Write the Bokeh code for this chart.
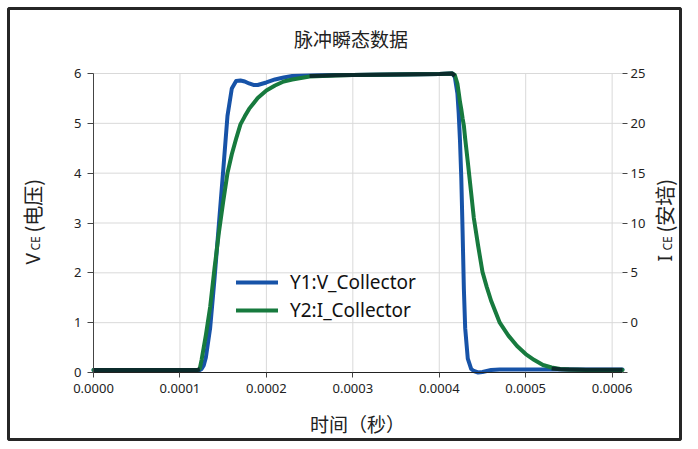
import numpy as np
from bokeh.plotting import figure
from bokeh.models import (Range1d, LinearAxis, FixedTicker, PrintfTickFormatter, Label,
                          Legend, LegendItem, ColumnDataSource, Grid)
from bokeh.embed import file_html
from bokeh.resources import INLINE

# ---------------- data ----------------
title_text = "脉冲瞬态数据"
x_title = "时间（秒）"
y1_title = ["V", "CE", "(电压)"]
y2_title = ["I", "CE", "(安培)"]
series_names = ["Y1:V_Collector", "Y2:I_Collector"]

time_s = [0.0, 0.00005, 0.0001, 0.00012, 0.000123, 0.000125, 0.0001275, 0.00013,
          0.000135, 0.00014, 0.000145, 0.00015, 0.000155, 0.00016, 0.000165, 0.00017,
          0.000175, 0.00018, 0.000185, 0.00019, 0.0002, 0.00021, 0.00022, 0.00023,
          0.00025, 0.00028, 0.0003, 0.00035, 0.0004, 0.000415, 0.000418, 0.000421,
          0.0004225, 0.000424, 0.0004255, 0.000427, 0.0004285, 0.00043, 0.000433,
          0.000437, 0.00044, 0.000445, 0.00045, 0.000455, 0.00046, 0.000465, 0.00047,
          0.00048, 0.00049, 0.0005, 0.00051, 0.00052, 0.00053, 0.00054, 0.00055,
          0.00057, 0.0006, 0.000612]
v_collector = [0.05, 0.05, 0.05, 0.05, 0.05, 0.07, 0.14, 0.3,
               0.9, 1.88, 2.96, 4.04, 5.15, 5.7, 5.85, 5.86,
               5.84, 5.8, 5.77, 5.77, 5.82, 5.88, 5.92, 5.95,
               5.96, 5.97, 5.97, 5.98, 5.99, 6.0, 5.93, 5.6,
               5.2, 4.65, 3.9, 2.83, 1.67, 0.89, 0.28,
               0.07, 0.03, 0.0, 0.01, 0.03, 0.05, 0.055, 0.06,
               0.06, 0.06, 0.06, 0.06, 0.06, 0.06, 0.06, 0.06,
               0.06, 0.06, 0.06]
i_collector = [-4.75, -4.75, -4.75, -4.75, -4.6, -3.75, -2.5, -1.25,
               1.6, 5.45, 9.0, 12.1, 15.0, 16.9, 18.45, 19.9,
               20.7, 21.45, 22.0, 22.55, 23.3, 23.8, 24.2, 24.4,
               24.7, 24.8, 24.85, 24.9, 24.95, 25.0, 24.85, 24.0,
               23.1, 22.15, 21.4, 20.5, 19.75, 18.45, 16.15,
               12.95, 10.5, 7.7, 5.1, 3.57, 2.2, 1.1, 0.0,
               -1.3, -2.35, -3.15, -3.75, -4.25, -4.5, -4.65, -4.7,
               -4.75, -4.75, -4.75]

x_ticks = [0.0, 0.0001, 0.0002, 0.0003, 0.0004, 0.0005, 0.0006]
y1_ticks = [0, 1, 2, 3, 4, 5, 6]
y2_ticks = [-5, 0, 5, 10, 15, 20, 25]

# ---------------- style / layout ----------------
BLUE = "#1753a8"
GREEN = "#177a3e"
DARK = "#0b2b2b"
GRID = "#d9d9d9"
TXT = "#222222"
LATIN = "Noto Sans"
CJK = "Noto Sans CJK SC"

W, H = 682, 441                              # canvas
FL, FT, FR, FB = 8, 8, W - 2, H - 2          # frame (its outline is the chart border)
PL, PR, PT, PB = 93.0, 622.0, 73.0, 372.0    # plot area (pixels from top-left)

X0, X1 = 0.0, 0.000612
Y1A, Y1B = 0.0, 6.0
Y2A, Y2B = -5.0, 25.0

kx = (X1 - X0) / (PR - PL)
k1 = (Y1B - Y1A) / (PB - PT)
k2 = (Y2B - Y2A) / (PB - PT)

p = figure(width=W, height=H, output_backend="svg", toolbar_location=None,
           x_range=Range1d(X0 - (PL - FL) * kx, X1 + (FR - PR) * kx),
           y_range=Range1d(Y1A - (FB - PB) * k1, Y1B + (PT - FT) * k1),
           x_axis_location=None, y_axis_location=None,
           min_border_left=FL, min_border_top=FT, min_border_right=W - FR, min_border_bottom=H - FB)
p.extra_y_ranges = {"amps": Range1d(Y2A - (FB - PB) * k2, Y2B + (PT - FT) * k2)}
p.outline_line_color = "#262626"
p.outline_line_width = 3
p.outline_line_alpha = 1.0
p.background_fill_color = "white"
p.border_fill_color = "white"
p.title.text = ""
# drop the automatic full-frame grids
p.center = [r for r in p.center if not isinstance(r, Grid)]
p.renderers = [r for r in p.renderers if not isinstance(r, Grid)]

# grid lines (limited to the plot area)
gx = ColumnDataSource(dict(x=x_ticks, y0=[Y1A] * len(x_ticks), y1=[Y1B] * len(x_ticks)))
gy = ColumnDataSource(dict(y=y1_ticks, x0=[X0] * len(y1_ticks), x1=[X1] * len(y1_ticks)))
p.segment(x0="x", y0="y0", x1="x", y1="y1", source=gx, line_color=GRID, line_width=1)
p.segment(x0="x0", y0="y", x1="x1", y1="y", source=gy, line_color=GRID, line_width=1)

# axes pinned to the plot area
xa = LinearAxis(fixed_location=Y1A, bounds=(X0, X1), ticker=FixedTicker(ticks=x_ticks),
                formatter=PrintfTickFormatter(format="%.4f"))
xa.major_tick_out = 5
xa.major_tick_in = 0
xa.minor_tick_out = 0
xa.minor_tick_in = 0
xa.major_label_standoff = 6
xa.axis_line_color = "#222222"
xa.major_tick_line_color = "#444444"
xa.major_label_text_font = LATIN
xa.major_label_text_font_size = "13px"
xa.major_label_text_color = TXT
p.add_layout(xa, "below")

ya = LinearAxis(fixed_location=X0, bounds=(Y1A, Y1B), ticker=FixedTicker(ticks=y1_ticks))
ya.major_tick_out = 6
ya.major_tick_in = 0
ya.minor_tick_out = 0
ya.minor_tick_in = 0
ya.major_label_standoff = 6
ya.axis_line_color = "#444444"
ya.major_tick_line_color = "#444444"
ya.major_label_text_font = LATIN
ya.major_label_text_font_size = "13px"
ya.major_label_text_color = TXT
p.add_layout(ya, "left")

ra = LinearAxis(y_range_name="amps", fixed_location=X1, bounds=(Y2A, Y2B),
                ticker=FixedTicker(ticks=y2_ticks), major_label_overrides={-5: ""})
ra.axis_line_color = None
ra.major_tick_out = 5
ra.major_tick_in = 0
ra.minor_tick_out = 0
ra.minor_tick_in = 0
ra.major_label_standoff = 3
ra.major_tick_line_color = "#444444"
ra.major_label_text_font = LATIN
ra.major_label_text_font_size = "13px"
ra.major_label_text_color = TXT
p.add_layout(ra, "right")

# data lines
v = np.array(v_collector, dtype=float)
i = np.array(i_collector, dtype=float)
i_on_left = (i - Y2A) / (Y2B - Y2A) * (Y1B - Y1A) + Y1A
overlap = np.where(np.abs(v - i_on_left) <= 0.045, (v + i_on_left) / 2, np.nan)

src = ColumnDataSource(dict(t=time_s, v=v_collector, i=i_collector, ov=overlap))
r1 = p.line("t", "v", source=src, line_color=BLUE, line_width=4, line_join="round", line_cap="round")
r2 = p.line("t", "i", source=src, y_range_name="amps", line_color=GREEN, line_width=4,
            line_join="round", line_cap="round")
p.line("t", "ov", source=src, line_color=DARK, line_width=4, line_join="round", line_cap="butt")

legend = Legend(items=[LegendItem(label=series_names[0], renderers=[r1]),
                       LegendItem(label=series_names[1], renderers=[r2])],
                location=(236 - FL, FB - 323), orientation="vertical",
                background_fill_alpha=0, border_line_color=None,
                label_text_font=LATIN, label_text_font_size="19px", label_text_color="#111111",
                glyph_width=42, glyph_height=24, label_height=24, spacing=2,
                padding=0, margin=0, label_standoff=12)
p.add_layout(legend)


def lab(text, x, y, size, font, angle=0.0, align="left", baseline="alphabetic"):
    # x, y given in pixels from the canvas top-left
    p.add_layout(Label(x=x - FL, y=FB - y, x_units="screen", y_units="screen", text=text,
                       angle=angle, text_align=align, text_baseline=baseline,
                       text_font_size=size, text_font=font, text_color=TXT))


lab(title_text, 350.5, 37.5, "19px", CJK, align="center", baseline="middle")
lab(x_title, 357.0, 423.0, "19px", CJK, align="center", baseline="middle")

A = np.pi / 2
lab(y1_title[0], 32, 264, "19px", LATIN, angle=A)
lab(y1_title[1], 35, 250, "12px", LATIN, angle=A)
lab(y1_title[2], 32, 232, "20px", CJK, angle=A)

lab(y2_title[0], 664, 261, "19px", LATIN, angle=A)
lab(y2_title[1], 667, 250, "12px", LATIN, angle=A)
lab(y2_title[2], 664, 232, "20px", CJK, angle=A)

open("out.html", "w").write(file_html(p, INLINE))
